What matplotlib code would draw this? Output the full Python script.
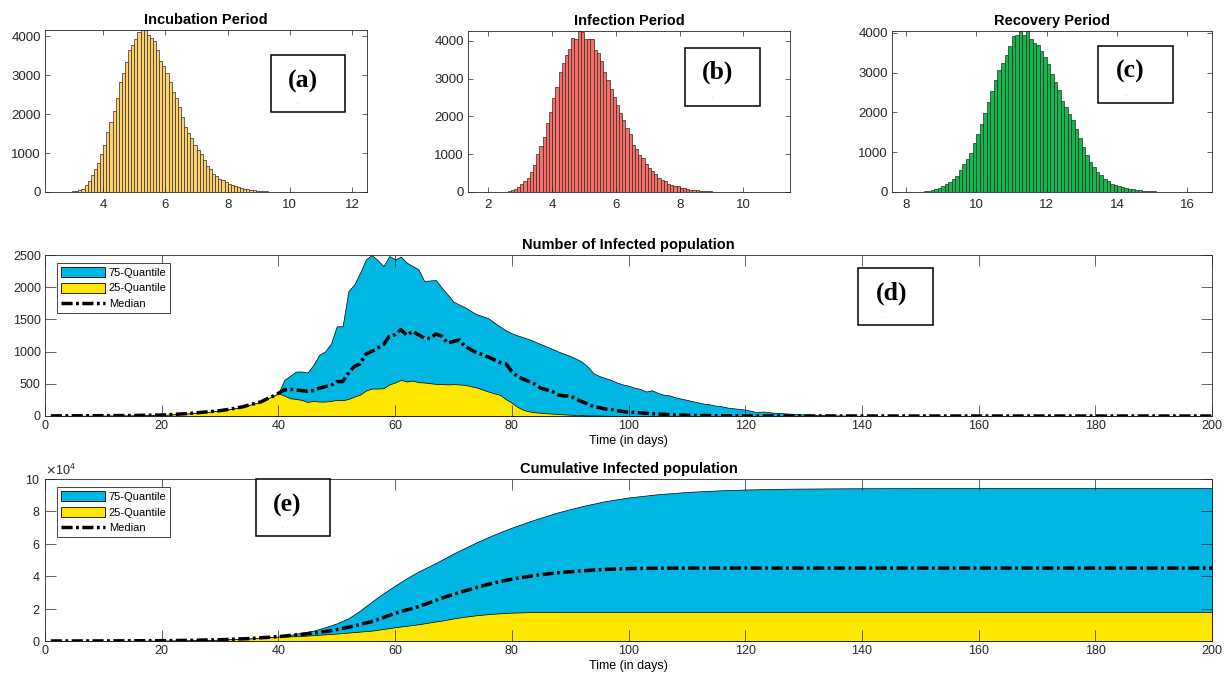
import numpy as np
import matplotlib
matplotlib.use('Agg')
import matplotlib.pyplot as plt
from matplotlib.patches import Rectangle, Patch
from matplotlib.lines import Line2D

plt.rcParams['font.family'] = ['Liberation Sans', 'DejaVu Sans']

# ---- histogram data (bin width 0.1) ----
incub_start = 2.8
incub_counts = [3, 8, 15, 30, 50, 86, 170, 275, 430, 585, 757, 972, 1204, 1531, 1789, 2082,
                2409, 2839, 3071, 3355, 3639, 3785, 3940, 4103, 4160, 4165, 4043, 3957, 3871,
                3656, 3372, 3252, 3071, 2839, 2581, 2409, 2176, 1918, 1677, 1505, 1376, 1204,
                1075, 972, 817, 671, 602, 456, 413, 344, 301, 258, 215, 172, 146, 120, 100, 80,
                65, 50, 40, 32, 25, 20, 15, 12, 9, 7, 5, 4, 3, 2, 2, 1, 1, 1, 1, 0, 1, 0, 0, 1,
                0, 0, 0, 1, 0, 0, 0, 0, 1]

infect_start = 2.2
infect_counts = [1, 2, 4, 8, 18, 44, 80, 132, 203, 291, 371, 530, 724, 998, 1219, 1457, 1828,
                 2119, 2472, 2781, 3179, 3400, 3620, 3770, 4062, 4035, 4256, 4238, 4044, 4044,
                 4040, 3753, 3682, 3461, 3179, 2958, 2711, 2517, 2313, 2093, 1898, 1704, 1545,
                 1236, 1148, 989, 909, 751, 636, 547, 468, 380, 327, 283, 221, 194, 168, 150,
                 115, 95, 78, 62, 50, 40, 33, 26, 20, 16, 12, 10, 8, 6, 5, 4, 3, 2, 2, 1, 1, 1,
                 1, 0, 1, 0, 1]

recov_start = 8.2
recov_counts = [1, 3, 8, 15, 25, 58, 67, 109, 159, 209, 259, 318, 402, 544, 695, 837, 987, 1238,
                1448, 1715, 1983, 2259, 2527, 2803, 3054, 3238, 3448, 3657, 3916, 3933, 4042,
                3950, 4040, 3849, 3740, 3682, 3540, 3389, 3205, 2971, 2762, 2569, 2285, 2134,
                1967, 1799, 1590, 1364, 1130, 921, 753, 628, 502, 435, 335, 276, 209, 167, 142,
                120, 100, 80, 65, 52, 42, 33, 26, 20, 15, 12, 9, 7, 5, 4, 3, 2, 1, 1, 1]

# ---- number of infected (d) ----
d_days = np.concatenate([[1, 5, 10, 15, 20, 22, 24, 26, 28, 30, 32, 34, 35, 36, 37, 38, 39, 40],
                         np.arange(41, 132),
                         [135, 140, 150, 160, 170, 180, 190, 200]])
d_early = [2, 3, 5, 8, 15, 25, 35, 50, 65, 83, 110, 145, 172, 195, 220, 265, 305, 353]
d_tail_q75 = [10, 3, 1, 0, 0, 0, 0, 0]
d_tail_q25 = [0, 0, 0, 0, 0, 0, 0, 0]
d_tail_med = [1, 0, 0, 0, 0, 0, 0, 0]
d_q75_mid = [560, 624, 690, 691, 676, 795, 951, 1003, 1123, 1393, 1393, 1939, 2043, 2225, 2433,
             2500, 2422, 2329, 2485, 2433, 2474, 2381, 2329, 2277, 2095, 2105, 2110, 1991, 1887,
             1776, 1730, 1688, 1630, 1579, 1550, 1517, 1450, 1387, 1330, 1284, 1250, 1222, 1190,
             1154, 1115, 1077, 1040, 999, 965, 932, 890, 844, 766, 663, 620, 590, 560, 520, 490,
             470, 440, 420, 380, 400, 360, 330, 320, 290, 270, 250, 230, 210, 190, 180, 160, 150,
             130, 120, 110, 100, 80, 60, 70, 60, 50, 45, 40, 35, 28, 25, 20]
d_q25_mid = [317, 275, 265, 250, 218, 234, 224, 224, 234, 250, 244, 265, 301, 333, 395, 426, 426,
             431, 489, 520, 561, 535, 551, 525, 520, 509, 499, 499, 490, 495, 490, 483, 462, 442,
             410, 379, 352, 327, 260, 205, 140, 93, 72, 57, 50, 42, 36, 30, 25, 20, 16, 12, 10, 8,
             6, 5, 4, 3, 2, 2, 1, 1, 1, 1, 1, 1, 1, 0, 0, 0, 0, 0, 0, 0, 0, 0, 0, 0, 0, 0, 0, 0,
             0, 0, 0, 0, 0, 0, 0, 0, 0]
d_med_mid = [405, 416, 405, 395, 385, 395, 431, 457, 473, 535, 535, 665, 769, 811, 962, 1003, 1055,
             1107, 1237, 1263, 1341, 1253, 1315, 1263, 1211, 1201, 1274, 1237, 1133, 1159, 1180,
             1081, 1029, 977, 951, 914, 873, 831, 810, 691, 613, 571, 535, 493, 431, 405, 379,
             327, 312, 312, 265, 224, 187, 146, 130, 110, 100, 85, 70, 60, 55, 50, 42, 35, 30,
             25, 22, 18, 14, 12, 10, 8, 7, 6, 5, 4, 3, 3, 2, 2, 1, 1, 1, 1, 1, 1, 1, 1, 1, 1, 1]
d_q75 = np.array(d_early + d_q75_mid + d_tail_q75)
d_q25 = np.array(d_early + d_q25_mid + d_tail_q25)
d_med = np.array(d_early + d_med_mid + d_tail_med)

# ---- cumulative infected (e) ----
e_days = [1, 10, 20, 25, 30, 35, 40, 42, 44, 46, 48, 50, 52, 54, 56, 58, 60, 62, 64, 66, 68, 70,
          72, 74, 76, 78, 80, 84, 88, 92, 96, 100, 105, 110, 115, 120, 125, 130, 140, 160, 180, 200]
e_early = [20, 60, 200, 400, 800, 1500, 2700]
e_q75 = np.array(e_early + [3700, 5150, 6400, 8450, 10900, 14000, 18800, 24300, 29500, 34200,
                            38800, 42900, 46400, 50100, 54000, 57500, 61000, 64200, 67200, 70000,
                            75000, 79500, 83200, 86300, 88600, 90600, 92000, 92900, 93500, 93900,
                            94100, 94300, 94400, 94400, 94400])
e_med = np.array(e_early + [3400, 4100, 4900, 5800, 7000, 8500, 10200, 12000, 14500, 17100,
                            19200, 21200, 23800, 26400, 28800, 31000, 33000, 35000, 36700, 38200,
                            40500, 42200, 43300, 44200, 44700, 44900, 45000, 45000, 45000, 45000,
                            45000, 45000, 45000, 45000, 45000])
e_q25 = np.array(e_early + [2900, 3100, 3600, 4100, 4600, 5200, 5800, 6400, 7400, 8500, 9400,
                            10300, 11500, 12600, 13900, 15000, 15900, 16600, 17100, 17500, 17900,
                            18000, 18000, 18000, 18000, 18000, 18000, 18000, 18000, 18000, 18000,
                            18000, 18000, 18000, 18000])

W, H = 1231, 681
fig = plt.figure(figsize=(W / 100, H / 100), dpi=100)

axcol = '#262626'
blue = '#00B7E3'
yellow = '#FFE600'
med_style = (0, (3.2, 1.0, 0.8, 1.0))


def px_axes(x0, y0, x1, y1):
    return fig.add_axes([x0 / W, 1 - y1 / H, (x1 - x0) / W, (y1 - y0) / H])


def style_axes(ax, ticklen, fs):
    ax.tick_params(direction='in', top=True, right=True, length=ticklen, width=0.5,
                   colors=axcol, labelsize=fs, pad=3)
    for s in ax.spines.values():
        s.set_linewidth(0.6)
        s.set_color(axcol)


def label_box(x0, y0, x1, y1, txt, tx, ty, dx, dy):
    fig.add_artist(Rectangle((x0 / W, 1 - y1 / H), (x1 - x0) / W, (y1 - y0) / H,
                             transform=fig.transFigure, facecolor='white', edgecolor='black',
                             lw=1.1, zorder=10))
    fig.text(tx / W, 1 - ty / H, txt, family='Liberation Serif', weight='bold', fontsize=18.5,
             ha='center', va='center', zorder=11)
    fig.text(dx / W, 1 - dy / H, '.', fontsize=4, color='#777777', ha='center', va='center',
             zorder=11)


hists = [
    (incub_start, incub_counts, '#FFD26E', 'Incubation Period', (45, 30, 367, 192),
     (2.13, 12.48), [4, 6, 8, 10, 12]),
    (infect_start, infect_counts, '#FA6F66', 'Infection Period', (468, 31, 790, 192),
     (1.36, 11.46), [2, 4, 6, 8, 10]),
    (recov_start, recov_counts, '#12B84A', 'Recovery Period', (892, 31, 1212, 192),
     (7.6, 16.7), [8, 10, 12, 14, 16]),
]
for start, counts, col, title, box, xl, xt in hists:
    ax = px_axes(*box)
    lefts = start + 0.1 * np.arange(len(counts))
    ax.bar(lefts, counts, width=0.1, align='edge', color=col, edgecolor='#2a2a2a', linewidth=0.5)
    ax.set_xlim(*xl)
    ax.set_ylim(0, max(counts))
    ax.set_xticks(xt)
    ax.set_yticks([0, 1000, 2000, 3000, 4000])
    style_axes(ax, 3.5, 9.5)
    ax.tick_params(axis='x', pad=5)
    ax.set_title(title, fontsize=10.5, weight='bold', pad=4)

leg_handles = [Patch(facecolor=blue, edgecolor='black', lw=0.6, label='75-Quantile'),
               Patch(facecolor=yellow, edgecolor='black', lw=0.6, label='25-Quantile'),
               Line2D([], [], color='black', lw=2.5, linestyle=med_style, label='Median')]

# (d)
axd = px_axes(45, 255, 1212, 416)
axd.fill_between(d_days, 0, d_q75, facecolor=blue, edgecolor='black', lw=0.5)
axd.fill_between(d_days, 0, d_q25, facecolor=yellow, edgecolor='black', lw=0.5)
axd.plot(d_days, d_med, color='black', lw=2.5, linestyle=med_style)
axd.set_xlim(0, 200)
axd.set_ylim(0, 2500)
axd.set_xticks(np.arange(0, 201, 20))
axd.set_yticks([0, 500, 1000, 1500, 2000, 2500])
style_axes(axd, 8, 9)
axd.set_title('Number of Infected population', fontsize=10.5, weight='bold', pad=4)
axd.set_xlabel('Time (in days)', fontsize=9, labelpad=2)
axd.legend(handles=leg_handles, loc='upper left', bbox_to_anchor=(0.0103, 0.95),
           borderaxespad=0, fontsize=8, handlelength=4.0, handleheight=1.0,
           labelspacing=0.45, handletextpad=0.3, borderpad=0.35, fancybox=False,
           edgecolor=axcol, framealpha=1)
axd.get_legend().get_frame().set_linewidth(0.6)

# (e)
axe = px_axes(45, 479, 1212, 641)
axe.fill_between(e_days, 0, e_q75, facecolor=blue, edgecolor='black', lw=0.5)
axe.fill_between(e_days, 0, e_q25, facecolor=yellow, edgecolor='black', lw=0.5)
axe.plot(e_days, e_med, color='black', lw=2.5, linestyle=med_style)
axe.set_xlim(0, 200)
axe.set_ylim(0, 100000)
axe.set_xticks(np.arange(0, 201, 20))
axe.set_yticks(np.arange(0, 100001, 20000))
axe.ticklabel_format(axis='y', style='sci', scilimits=(4, 4), useMathText=True)
axe.yaxis.get_offset_text().set_fontsize(9)
axe.yaxis.get_offset_text().set_color(axcol)
style_axes(axe, 8, 9)
axe.set_title('Cumulative Infected population', fontsize=10.5, weight='bold', pad=4)
axe.set_xlabel('Time (in days)', fontsize=9, labelpad=2)
axe.legend(handles=leg_handles, loc='upper left', bbox_to_anchor=(0.0103, 0.95),
           borderaxespad=0, fontsize=8, handlelength=4.0, handleheight=1.0,
           labelspacing=0.45, handletextpad=0.3, borderpad=0.35, fancybox=False,
           edgecolor=axcol, framealpha=1)
axe.get_legend().get_frame().set_linewidth(0.6)

label_box(271, 55, 345, 112, '(a)', 303, 81, 297, 103)
label_box(685, 48, 760, 106, '(b)', 718, 72, 712, 96)
label_box(1098, 46, 1173, 103, '(c)', 1130, 71, 1126, 95)
label_box(858, 268, 933, 325, '(d)', 892, 293, 885, 316)
label_box(256, 479, 330, 536, '(e)', 287, 505, 282, 527)

fig.savefig('out.png', dpi=100)
